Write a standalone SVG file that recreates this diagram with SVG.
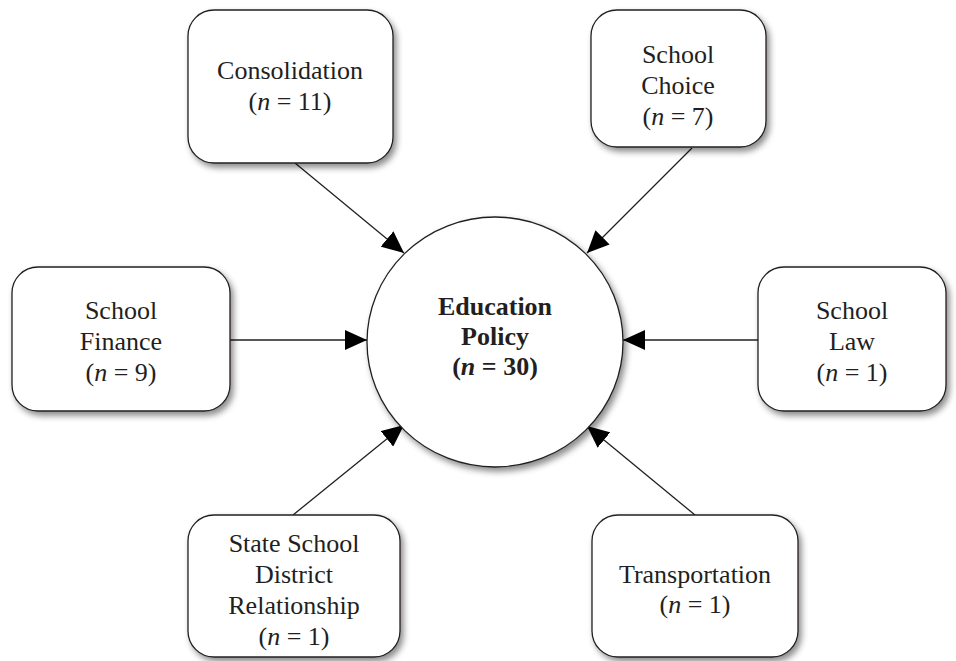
<svg xmlns="http://www.w3.org/2000/svg" width="956" height="661" viewBox="0 0 956 661">
<style>
.box{fill:#fff;stroke:#231f20;stroke-width:1.3;filter:url(#sh)}
.t{font-family:"Liberation Serif","Times New Roman",serif;font-size:26px;fill:#231f20;text-anchor:middle}
.b{font-weight:bold}
.c{stroke:#231f20;stroke-width:1.3;fill:none;marker-end:url(#ah)}
</style>
<defs>
<filter id="sh" x="-10%" y="-10%" width="125%" height="130%">
<feDropShadow dx="3" dy="4" stdDeviation="3" flood-color="#000" flood-opacity="0.45"/>
</filter>
<marker id="ah" markerUnits="userSpaceOnUse" markerWidth="22" markerHeight="20" refX="22" refY="10" orient="auto">
<path d="M0,0 L22,10 L0,20 z" fill="#000"/>
</marker>
</defs>
<g id="connectors">
<line class="c" x1="295" y1="163" x2="404" y2="253"/>
<line class="c" x1="692" y1="148" x2="587" y2="253"/>
<line class="c" x1="230" y1="340" x2="367" y2="340"/>
<line class="c" x1="758" y1="340" x2="623" y2="340"/>
<line class="c" x1="293" y1="515" x2="404" y2="425"/>
<line class="c" x1="695" y1="515" x2="587" y2="426"/>
</g>
<g id="center">
<ellipse class="box" cx="495" cy="342" rx="128" ry="125"/>
<text class="t b" x="495" y="315">Education</text>
<text class="t b" x="495" y="345">Policy</text>
<text class="t b" x="495" y="375">(<tspan font-style="italic">n</tspan> = 30)</text>
</g>
<g id="consolidation">
<rect class="box" x="188" y="10" width="205" height="153" rx="26"/>
<text class="t" x="290" y="79">Consolidation</text>
<text class="t" x="290" y="110">(<tspan font-style="italic">n</tspan> = 11)</text>
</g>
<g id="choice">
<rect class="box" x="591" y="10" width="175" height="137" rx="26"/>
<text class="t" x="678" y="63">School</text>
<text class="t" x="678" y="94">Choice</text>
<text class="t" x="678" y="125">(<tspan font-style="italic">n</tspan> = 7)</text>
</g>
<g id="finance">
<rect class="box" x="12" y="267" width="218" height="144" rx="26"/>
<text class="t" x="121" y="319">School</text>
<text class="t" x="121" y="350">Finance</text>
<text class="t" x="121" y="381">(<tspan font-style="italic">n</tspan> = 9)</text>
</g>
<g id="law">
<rect class="box" x="758" y="267" width="188" height="144" rx="26"/>
<text class="t" x="852" y="319">School</text>
<text class="t" x="852" y="350">Law</text>
<text class="t" x="852" y="381">(<tspan font-style="italic">n</tspan> = 1)</text>
</g>
<g id="state">
<rect class="box" x="188" y="515" width="212" height="142" rx="26"/>
<text class="t" x="294" y="552">State School</text>
<text class="t" x="294" y="583">District</text>
<text class="t" x="294" y="614">Relationship</text>
<text class="t" x="294" y="645">(<tspan font-style="italic">n</tspan> = 1)</text>
</g>
<g id="transportation">
<rect class="box" x="592" y="515" width="206" height="142" rx="26"/>
<text class="t" x="695" y="583">Transportation</text>
<text class="t" x="695" y="613">(<tspan font-style="italic">n</tspan> = 1)</text>
</g>
</svg>
